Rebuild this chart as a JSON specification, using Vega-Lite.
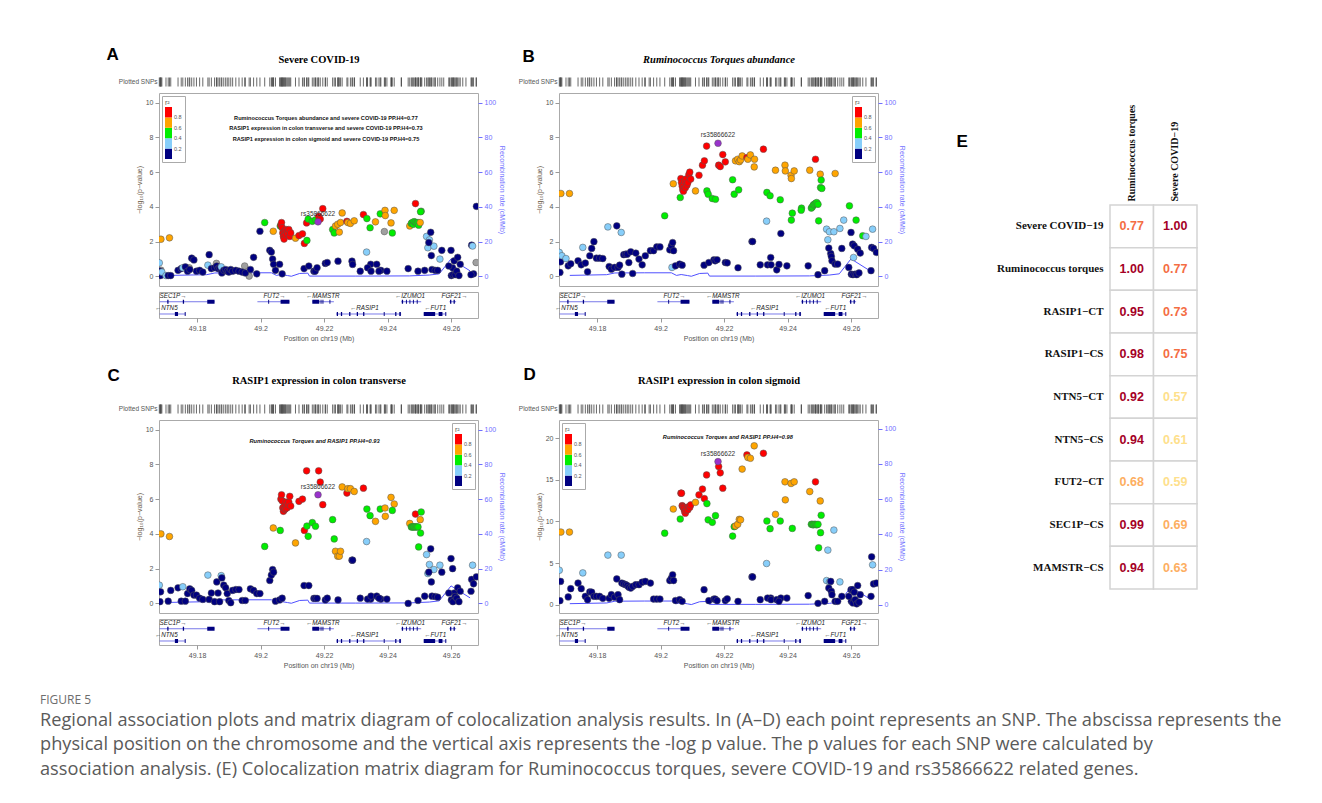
{
"$schema": "https://vega.github.io/schema/vega-lite/v6.json",
"padding": {"left": 40, "top": 45, "right": 5, "bottom": 5},
"background": "white",
"config": {"view": {"stroke": "#aaaaaa", "strokeWidth": 1}, "font": "Liberation Sans", "axis": {"titleFontWeight": "normal", "labelFont": "Liberation Sans", "titleFont": "Liberation Sans", "labelOverlap": false},
 "legend": {"type": "gradient", "direction": "vertical", "gradientLength": 52, "gradientThickness": 7, "labelFontSize": 5.5, "titleFontSize": 7, "padding": 3, "fillColor": "#ffffff", "strokeColor": "#aaaaaa", "labelColor": "#555555", "titleColor": "#555555", "titleFontWeight": "normal", "titlePadding": 1, "offset": 3, "labelOffset": 2}},
"title": {"text": "FIGURE 5", "subtitle": ["Regional association plots and matrix diagram of colocalization analysis results. In (A–D) each point represents an SNP. The abscissa represents the", "physical position on the chromosome and the vertical axis represents the -log p value. The p values for each SNP were calculated by", "association analysis. (E) Colocalization matrix diagram for Ruminococcus torques, severe COVID-19 and rs35866622 related genes."], "orient": "bottom", "anchor": "start", "dx": -66, "offset": 26, "font": "Open Sans", "fontSize": 12, "fontWeight": "normal", "color": "#6d6d6d", "subtitleFont": "Open Sans", "subtitleFontSize": 18.2, "subtitleColor": "#5a5a5a", "subtitlePadding": 5, "subtitleLineHeight": 24.5},
"datasets": {
"snps": [
{"pos":49.1681,"r2":0.3,"a":0.78,"b":1.38,"c":1.05,"d":4.14},
{"pos":49.1683,"r2":0.1,"a":0.30,"b":0.23,"c":0.10,"d":0.48},
{"pos":49.1685,"r2":0.1,"a":0.05,"b":0.84,"c":0.67,"d":2.80},
{"pos":49.1686,"r2":0.7,"a":2.14,"b":4.77,"c":4.00,"d":8.73},
{"pos":49.1689,"r2":0.3,"a":0.25,"b":1.19,"c":null,"d":null},
{"pos":49.1686,"r2":null,"a":0.36,"b":null,"c":null,"d":null},
{"pos":49.1702,"r2":0.3,"a":0.05,"b":1.03,"c":null,"d":null},
{"pos":49.1709,"r2":0.1,"a":0.05,"b":0.61,"c":0.13,"d":0.93},
{"pos":49.1713,"r2":0.7,"a":2.22,"b":4.77,"c":3.85,"d":8.73},
{"pos":49.1717,"r2":0.1,"a":0.05,"b":0.73,"c":0.75,"d":1.93},
{"pos":49.1740,"r2":0.1,"a":0.35,"b":0.90,"c":0.90,"d":2.60},
{"pos":49.1750,"r2":0.1,"a":0.45,"b":0.67,"c":0.13,"d":1.93},
{"pos":49.1755,"r2":0.3,"a":0.50,"b":1.67,"c":0.96,"d":3.82},
{"pos":49.1763,"r2":0.1,"a":0.55,"b":0.77,"c":0.13,"d":1.00},
{"pos":49.1770,"r2":0.1,"a":0.30,"b":0.27,"c":0.57,"d":0.60},
{"pos":49.1775,"r2":null,"a":0.50,"b":null,"c":null,"d":null},
{"pos":49.1777,"r2":0.1,"a":0.40,"b":1.19,"c":0.84,"d":1.53},
{"pos":49.1783,"r2":0.1,"a":1.05,"b":1.61,"c":0.75,"d":1.50},
{"pos":49.1790,"r2":0.1,"a":0.95,"b":2.00,"c":0.48,"d":1.00},
{"pos":49.1798,"r2":0.1,"a":0.30,"b":1.05,"c":0.48,"d":1.00},
{"pos":49.1808,"r2":0.1,"a":0.35,"b":1.05,"c":0.30,"d":1.00},
{"pos":49.1818,"r2":0.1,"a":0.25,"b":1.03,"c":0.23,"d":0.76},
{"pos":49.1834,"r2":0.3,"a":0.65,"b":2.85,"c":1.63,"d":5.96},
{"pos":49.1838,"r2":0.1,"a":1.25,"b":0.57,"c":0.23,"d":0.76},
{"pos":49.1845,"r2":0.1,"a":0.45,"b":0.42,"c":0.60,"d":1.20},
{"pos":49.1855,"r2":0.1,"a":0.50,"b":0.52,"c":0.10,"d":0.90},
{"pos":49.1861,"r2":null,"a":0.75,"b":null,"c":null,"d":null},
{"pos":49.1862,"r2":0.1,"a":0.60,"b":2.91,"c":1.24,"d":3.10},
{"pos":49.1866,"r2":0.1,"a":0.45,"b":0.52,"c":0.60,"d":1.20},
{"pos":49.1871,"r2":0.1,"a":0.50,"b":0.65,"c":0.10,"d":0.60},
{"pos":49.1876,"r2":0.3,"a":0.55,"b":2.53,"c":1.60,"d":5.96},
{"pos":49.1878,"r2":0.1,"a":0.20,"b":0.13,"c":1.47,"d":2.60},
{"pos":49.1884,"r2":0.1,"a":0.35,"b":1.25,"c":1.05,"d":2.50},
{"pos":49.1890,"r2":0.1,"a":0.40,"b":1.28,"c":0.90,"d":2.40},
{"pos":49.1895,"r2":0.1,"a":0.30,"b":1.28,"c":0.57,"d":2.30},
{"pos":49.1900,"r2":0.1,"a":0.25,"b":0.80,"c":0.17,"d":2.10},
{"pos":49.1906,"r2":0.1,"a":0.40,"b":1.42,"c":0.04,"d":2.00},
{"pos":49.1912,"r2":0.1,"a":0.30,"b":0.17,"c":0.75,"d":2.20},
{"pos":49.1922,"r2":0.1,"a":0.35,"b":1.34,"c":0.80,"d":2.40},
{"pos":49.1932,"r2":0.1,"a":0.30,"b":1.00,"c":0.80,"d":2.40},
{"pos":49.1942,"r2":0.1,"a":0.25,"b":0.67,"c":0.17,"d":2.70},
{"pos":49.1950,"r2":null,"a":0.60,"b":null,"c":null,"d":null},
{"pos":49.1952,"r2":0.1,"a":0.20,"b":1.19,"c":0.17,"d":2.80},
{"pos":49.1964,"r2":null,"a":0.02,"b":null,"c":null,"d":null},
{"pos":49.1968,"r2":0.1,"a":0.40,"b":1.48,"c":0.84,"d":2.60},
{"pos":49.1978,"r2":0.1,"a":1.10,"b":1.48,"c":0.75,"d":0.68},
{"pos":49.1988,"r2":0.1,"a":0.15,"b":1.70,"c":0.57,"d":0.68},
{"pos":49.1998,"r2":0.1,"a":2.60,"b":1.70,"c":0.57,"d":0.68},
{"pos":49.2013,"r2":0.5,"a":3.10,"b":3.49,"c":3.28,"d":8.60},
{"pos":49.2029,"r2":0.1,"a":1.50,"b":1.53,"c":1.32,"d":2.90},
{"pos":49.2034,"r2":0.1,"a":1.40,"b":1.76,"c":1.63,"d":3.20},
{"pos":49.2038,"r2":0.1,"a":1.00,"b":1.95,"c":1.95,"d":3.60},
{"pos":49.2041,"r2":0.1,"a":0.70,"b":1.48,"c":1.80,"d":2.90},
{"pos":49.2036,"r2":0.3,"a":null,"b":0.52,"c":null,"d":null},
{"pos":49.2040,"r2":0.7,"a":2.60,"b":5.33,"c":4.34,"d":11.5},
{"pos":49.2047,"r2":0.1,"a":0.35,"b":0.61,"c":0.13,"d":0.50},
{"pos":49.2062,"r2":0.5,"a":2.90,"b":4.54,"c":4.20,"d":10.3},
{"pos":49.2060,"r2":0.1,"a":0.70,"b":0.71,"c":0.20,"d":0.60},
{"pos":49.2068,"r2":0.1,"a":0.15,"b":0.65,"c":0.30,"d":0.40},
{"pos":49.2064,"r2":0.9,"a":2.95,"b":5.63,"c":6.00,"d":13.4},
{"pos":49.2066,"r2":0.9,"a":3.10,"b":5.40,"c":6.25,"d":13.4},
{"pos":49.2068,"r2":0.9,"a":2.80,"b":5.20,"c":5.90,"d":11.9},
{"pos":49.2070,"r2":0.9,"a":2.50,"b":5.00,"c":5.50,"d":11.8},
{"pos":49.2072,"r2":0.9,"a":2.30,"b":4.90,"c":5.30,"d":11.7},
{"pos":49.2074,"r2":0.9,"a":2.15,"b":5.30,"c":5.56,"d":11.5},
{"pos":49.2076,"r2":0.9,"a":2.60,"b":5.50,"c":5.40,"d":11.2},
{"pos":49.2078,"r2":0.9,"a":2.40,"b":5.10,"c":5.45,"d":11.0},
{"pos":49.2080,"r2":0.9,"a":2.70,"b":5.60,"c":5.83,"d":11.3},
{"pos":49.2083,"r2":0.9,"a":2.55,"b":5.25,"c":5.49,"d":11.6},
{"pos":49.2086,"r2":0.9,"a":2.45,"b":5.40,"c":5.70,"d":11.4},
{"pos":49.2089,"r2":0.9,"a":2.70,"b":5.85,"c":5.83,"d":11.8},
{"pos":49.2092,"r2":0.9,"a":2.30,"b":6.00,"c":6.16,"d":11.7},
{"pos":49.2095,"r2":0.9,"a":2.50,"b":5.60,"c":5.60,"d":12.0},
{"pos":49.2110,"r2":0.7,"a":2.20,"b":4.92,"c":3.48,"d":12.3},
{"pos":49.2121,"r2":0.9,"a":2.35,"b":5.82,"c":5.87,"d":13.2},
{"pos":49.2132,"r2":0.9,"a":2.45,"b":6.40,"c":6.00,"d":13.9},
{"pos":49.2138,"r2":0.9,"a":1.90,"b":6.65,"c":4.20,"d":12.75},
{"pos":49.2145,"r2":0.9,"a":3.08,"b":7.50,"c":7.63,"d":15.6},
{"pos":49.2146,"r2":0.5,"a":2.07,"b":4.92,"c":4.45,"d":12.15},
{"pos":49.2150,"r2":0.5,"a":3.30,"b":4.73,"c":3.86,"d":10.2},
{"pos":49.2137,"r2":0.1,"a":0.45,"b":0.65,"c":1.03,"d":1.80},
{"pos":49.2152,"r2":0.1,"a":0.60,"b":0.80,"c":1.03,"d":0.48},
{"pos":49.2163,"r2":0.5,"a":3.17,"b":4.48,"c":4.65,"d":9.90},
{"pos":49.2173,"r2":0.5,"a":3.25,"b":4.44,"c":4.44,"d":10.7},
{"pos":49.2168,"r2":0.1,"a":0.30,"b":0.96,"c":0.29,"d":0.68},
{"pos":49.2172,"r2":0.1,"a":0.30,"b":0.90,"c":0.29,"d":0.68},
{"pos":49.2181,"r2":1.0,"a":3.14,"b":7.66,"c":6.25,"d":17.2},
{"pos":49.2183,"r2":0.9,"a":3.46,"b":6.40,"c":7.63,"d":16.6},
{"pos":49.2188,"r2":0.9,"a":3.30,"b":6.32,"c":6.98,"d":15.85},
{"pos":49.2196,"r2":0.9,"a":3.90,"b":7.01,"c":5.68,"d":14.0},
{"pos":49.2204,"r2":0.9,"a":null,"b":6.59,"c":null,"d":null},
{"pos":49.2178,"r2":0.1,"a":0.50,"b":0.96,"c":0.29,"d":0.48},
{"pos":49.2204,"r2":0.1,"a":0.75,"b":0.80,"c":0.20,"d":0.50},
{"pos":49.2210,"r2":0.1,"a":0.80,"b":0.78,"c":0.30,"d":0.70},
{"pos":49.2227,"r2":0.5,"a":2.70,"b":5.56,"c":4.82,"d":8.25},
{"pos":49.2232,"r2":0.5,"a":2.50,"b":4.73,"c":3.71,"d":9.38},
{"pos":49.2246,"r2":0.5,"a":null,"b":4.98,"c":null,"d":null},
{"pos":49.2236,"r2":0.7,"a":2.90,"b":6.65,"c":3.00,"d":9.46},
{"pos":49.2243,"r2":0.7,"a":3.00,"b":6.74,"c":2.72,"d":9.66},
{"pos":49.2248,"r2":0.7,"a":2.55,"b":6.60,"c":2.72,"d":10.26},
{"pos":49.2252,"r2":0.7,"a":3.10,"b":6.70,"c":3.00,"d":10.2},
{"pos":49.2257,"r2":0.7,"a":3.65,"b":6.93,"c":6.70,"d":16.3},
{"pos":49.2272,"r2":0.9,"a":3.17,"b":6.84,"c":6.35,"d":18.0},
{"pos":49.2275,"r2":0.7,"a":3.10,"b":6.74,"c":6.60,"d":17.7},
{"pos":49.2283,"r2":0.7,"a":3.05,"b":6.99,"c":6.60,"d":17.6},
{"pos":49.2295,"r2":0.7,"a":3.20,"b":6.30,"c":6.44,"d":19.1},
{"pos":49.2296,"r2":0.7,"a":null,"b":6.74,"c":null,"d":null},
{"pos":49.2244,"r2":0.1,"a":0.88,"b":0.50,"c":0.20,"d":0.40},
{"pos":49.2288,"r2":0.1,"a":0.88,"b":2.01,"c":2.49,"d":3.34},
{"pos":49.2290,"r2":0.1,"a":0.69,"b":2.01,"c":2.49,"d":3.34},
{"pos":49.2314,"r2":0.1,"a":0.30,"b":0.67,"c":0.30,"d":0.60},
{"pos":49.2324,"r2":0.9,"a":3.56,"b":7.32,"c":6.63,"d":18.2},
{"pos":49.2334,"r2":0.3,"a":1.40,"b":3.18,"c":3.56,"d":4.95},
{"pos":49.2335,"r2":0.5,"a":3.33,"b":4.83,"c":5.43,"d":10.06},
{"pos":49.2345,"r2":0.5,"a":2.80,"b":4.64,"c":5.05,"d":9.13},
{"pos":49.2347,"r2":0.1,"a":0.70,"b":1.09,"c":0.25,"d":0.80},
{"pos":49.2337,"r2":0.1,"a":0.50,"b":0.67,"c":0.25,"d":0.80},
{"pos":49.2348,"r2":0.1,"a":0.30,"b":0.67,"c":0.42,"d":0.60},
{"pos":49.2362,"r2":0.7,"a":3.14,"b":6.11,"c":4.72,"d":10.86},
{"pos":49.2366,"r2":0.1,"a":0.70,"b":0.38,"c":0.42,"d":0.60},
{"pos":49.2377,"r2":0.5,"a":3.60,"b":4.41,"c":5.43,"d":10.06},
{"pos":49.2379,"r2":0.1,"a":0.35,"b":2.47,"c":0.25,"d":0.80},
{"pos":49.2373,"r2":0.1,"a":0.30,"b":0.69,"c":0.30,"d":0.40},
{"pos":49.2392,"r2":0.7,"a":3.80,"b":6.40,"c":5.49,"d":14.77},
{"pos":49.2393,"r2":0.7,"a":3.50,"b":6.07,"c":5.01,"d":12.6},
{"pos":49.2390,"r2":null,"a":2.58,"b":null,"c":null,"d":null},
{"pos":49.2411,"r2":0.7,"a":3.08,"b":5.82,"c":6.10,"d":14.57},
{"pos":49.2421,"r2":0.7,"a":3.80,"b":6.07,"c":5.72,"d":14.77},
{"pos":49.2412,"r2":0.7,"a":null,"b":5.63,"c":null,"d":null},
{"pos":49.2415,"r2":0.5,"a":2.50,"b":3.64,"c":5.35,"d":9.17},
{"pos":49.2412,"r2":0.5,"a":null,"b":3.24,"c":null,"d":null},
{"pos":49.2398,"r2":0.1,"a":0.30,"b":0.61,"c":0.25,"d":0.80},
{"pos":49.2444,"r2":0.5,"a":null,"b":3.93,"c":null,"d":null},
{"pos":49.2443,"r2":0.5,"a":null,"b":3.81,"c":null,"d":null},
{"pos":49.2465,"r2":0.1,"a":0.45,"b":0.61,"c":0.00,"d":1.09},
{"pos":49.2470,"r2":0.7,"a":2.90,"b":6.11,"c":4.60,"d":13.6},
{"pos":49.2475,"r2":0.5,"a":3.05,"b":3.93,"c":4.40,"d":9.66},
{"pos":49.2478,"r2":0.5,"a":3.10,"b":4.00,"c":4.40,"d":9.66},
{"pos":49.2481,"r2":0.5,"a":3.00,"b":4.10,"c":4.40,"d":9.60},
{"pos":49.2484,"r2":0.5,"a":3.15,"b":4.15,"c":4.40,"d":9.66},
{"pos":49.2488,"r2":0.5,"a":3.10,"b":4.20,"c":4.40,"d":9.66},
{"pos":49.2492,"r2":0.5,"a":3.05,"b":4.25,"c":4.40,"d":9.60},
{"pos":49.2496,"r2":0.5,"a":3.10,"b":4.15,"c":4.40,"d":9.66},
{"pos":49.2488,"r2":0.9,"a":4.19,"b":6.74,"c":5.14,"d":14.77},
{"pos":49.2498,"r2":0.5,"a":2.95,"b":3.20,"c":3.25,"d":6.84},
{"pos":49.2503,"r2":0.7,"a":3.10,"b":5.88,"c":4.82,"d":12.47},
{"pos":49.2506,"r2":0.5,"a":3.75,"b":5.54,"c":5.26,"d":10.75},
{"pos":49.2504,"r2":0.5,"a":3.72,"b":5.11,"c":4.05,"d":8.65},
{"pos":49.2508,"r2":0.5,"a":null,"b":5.06,"c":null,"d":null},
{"pos":49.2496,"r2":0.1,"a":0.30,"b":0.10,"c":0.17,"d":0.16},
{"pos":49.2517,"r2":0.1,"a":0.35,"b":0.33,"c":0.42,"d":0.40},
{"pos":49.2523,"r2":0.3,"a":2.30,"b":2.72,"c":2.81,"d":2.90},
{"pos":49.2527,"r2":0.3,"a":1.65,"b":2.11,"c":1.72,"d":6.56},
{"pos":49.2532,"r2":0.3,"a":2.10,"b":2.57,"c":2.24,"d":2.74},
{"pos":49.2546,"r2":0.3,"a":1.74,"b":2.57,"c":1.95,"d":8.97},
{"pos":49.2550,"r2":0.7,"a":null,"b":5.92,"c":null,"d":null},
{"pos":49.2565,"r2":0.3,"a":1.00,"b":2.76,"c":2.20,"d":2.74},
{"pos":49.2536,"r2":0.1,"a":2.54,"b":1.32,"c":3.14,"d":2.80},
{"pos":49.2530,"r2":0.1,"a":1.95,"b":1.63,"c":1.80,"d":2.00},
{"pos":49.2538,"r2":0.1,"a":1.20,"b":1.15,"c":1.24,"d":1.60},
{"pos":49.2540,"r2":0.1,"a":0.40,"b":0.90,"c":0.42,"d":1.20},
{"pos":49.2550,"r2":0.1,"a":0.35,"b":0.71,"c":0.40,"d":0.40},
{"pos":49.2571,"r2":0.1,"a":1.50,"b":1.61,"c":1.80,"d":1.00},
{"pos":49.2577,"r2":0.3,"a":null,"b":3.24,"c":null,"d":null},
{"pos":49.2558,"r2":0.1,"a":0.35,"b":0.71,"c":0.36,"d":0.40},
{"pos":49.2595,"r2":0.5,"a":null,"b":4.06,"c":null,"d":null},
{"pos":49.2600,"r2":0.1,"a":1.50,"b":2.53,"c":2.58,"d":1.80},
{"pos":49.2608,"r2":0.3,"a":null,"b":1.09,"c":null,"d":null},
{"pos":49.2605,"r2":0.1,"a":0.50,"b":1.86,"c":2.00,"d":1.80},
{"pos":49.2610,"r2":0.1,"a":0.90,"b":1.76,"c":0.60,"d":1.50},
{"pos":49.2616,"r2":0.5,"a":null,"b":3.24,"c":null,"d":null},
{"pos":49.2621,"r2":0.1,"a":1.10,"b":1.57,"c":0.90,"d":2.30},
{"pos":49.2629,"r2":0.1,"a":0.70,"b":1.34,"c":0.70,"d":1.20},
{"pos":49.2601,"r2":0.1,"a":0.05,"b":0.13,"c":0.20,"d":0.40},
{"pos":49.2606,"r2":0.1,"a":0.10,"b":0.10,"c":0.10,"d":0.20},
{"pos":49.2613,"r2":0.1,"a":0.10,"b":0.13,"c":0.40,"d":0.60},
{"pos":49.2618,"r2":0.1,"a":0.30,"b":0.10,"c":0.30,"d":0.10},
{"pos":49.2625,"r2":0.1,"a":0.05,"b":0.20,"c":0.10,"d":0.30},
{"pos":49.2593,"r2":0.1,"a":0.60,"b":0.52,"c":0.60,"d":1.00},
{"pos":49.2637,"r2":0.5,"a":null,"b":2.34,"c":null,"d":null},
{"pos":49.2647,"r2":0.3,"a":null,"b":2.30,"c":null,"d":null},
{"pos":49.2665,"r2":0.1,"a":1.80,"b":1.67,"c":1.38,"d":5.75},
{"pos":49.2668,"r2":0.3,"a":1.75,"b":2.72,"c":2.20,"d":4.79},
{"pos":49.2671,"r2":0.1,"a":0.15,"b":1.61,"c":1.13,"d":2.50},
{"pos":49.2663,"r2":0.1,"a":0.10,"b":0.33,"c":0.70,"d":1.00},
{"pos":49.2680,"r2":0.1,"a":4.03,"b":1.38,"c":1.53,"d":2.60},
{"pos":49.2679,"r2":null,"a":0.80,"b":null,"c":null,"d":null}
],
"recomb": [{"pos":49.1714,"rate":0.6},{"pos":49.183,"rate":1.0},{"pos":49.1856,"rate":2.0},{"pos":49.195,"rate":2.1},{"pos":49.2034,"rate":2.1},{"pos":49.205,"rate":0.6},{"pos":49.2065,"rate":1.1},{"pos":49.2085,"rate":0.5},{"pos":49.2097,"rate":0.1},{"pos":49.2123,"rate":1.7},{"pos":49.2149,"rate":1.9},{"pos":49.2154,"rate":0.2},{"pos":49.23,"rate":0.2},{"pos":49.2469,"rate":0.3},{"pos":49.2532,"rate":0.8},{"pos":49.2563,"rate":1.5},{"pos":49.26,"rate":10.1},{"pos":49.266,"rate":3.2}],
"genes": [{"label":"SEC1P→","start":49.1682,"end":49.1855,"track":2,"lab":49.1724},{"label":"←NTN5","start":49.1682,"end":49.1764,"track":1,"lab":49.1703},{"label":"FUT2→","start":49.199,"end":49.2091,"track":2,"lab":49.2044},{"label":"←MAMSTR","start":49.2163,"end":49.2231,"track":2,"lab":49.2196},{"label":"←RASIP1","start":49.2238,"end":49.2443,"track":1,"lab":49.2327},{"label":"←IZUMO1","start":49.2443,"end":49.2506,"track":2,"lab":49.2471},{"label":"←FUT1","start":49.2514,"end":49.2585,"track":1,"lab":49.255},{"label":"FGF21→","start":49.2595,"end":49.2616,"track":2,"lab":49.2611}],
"exons": [{"start":49.1706,"end":49.1710,"track":2},{"start":49.1755,"end":49.1759,"track":2},{"start":49.1832,"end":49.1855,"track":2},{"start":49.173,"end":49.174,"track":1},{"start":49.1761,"end":49.1764,"track":1},{"start":49.2063,"end":49.2091,"track":2},{"start":49.2024,"end":49.2027,"track":2},{"start":49.2163,"end":49.2185,"track":2},{"start":49.2189,"end":49.2192,"track":2},{"start":49.2195,"end":49.2198,"track":2},{"start":49.2217,"end":49.2220,"track":2},{"start":49.2240,"end":49.2244,"track":1},{"start":49.2253,"end":49.2257,"track":1},{"start":49.2279,"end":49.2283,"track":1},{"start":49.2303,"end":49.2307,"track":1},{"start":49.2323,"end":49.2327,"track":1},{"start":49.2388,"end":49.2391,"track":1},{"start":49.2424,"end":49.2428,"track":1},{"start":49.2437,"end":49.2442,"track":1},{"start":49.2445,"end":49.2449,"track":2},{"start":49.2458,"end":49.2461,"track":2},{"start":49.2469,"end":49.2472,"track":2},{"start":49.2480,"end":49.2483,"track":2},{"start":49.2492,"end":49.2495,"track":2},{"start":49.2514,"end":49.2550,"track":1},{"start":49.2561,"end":49.2573,"track":1},{"start":49.2582,"end":49.2585,"track":1},{"start":49.2597,"end":49.2601,"track":2},{"start":49.2608,"end":49.2612,"track":2}],
"matrix": [{"row":"Severe COVID−19","col":"Ruminococcus torques","v":0.77},{"row":"Severe COVID−19","col":"Severe COVID−19","v":1.00},{"row":"Ruminococcus torques","col":"Ruminococcus torques","v":1.00},{"row":"Ruminococcus torques","col":"Severe COVID−19","v":0.77},{"row":"RASIP1−CT","col":"Ruminococcus torques","v":0.95},{"row":"RASIP1−CT","col":"Severe COVID−19","v":0.73},{"row":"RASIP1−CS","col":"Ruminococcus torques","v":0.98},{"row":"RASIP1−CS","col":"Severe COVID−19","v":0.75},{"row":"NTN5−CT","col":"Ruminococcus torques","v":0.92},{"row":"NTN5−CT","col":"Severe COVID−19","v":0.57},{"row":"NTN5−CS","col":"Ruminococcus torques","v":0.94},{"row":"NTN5−CS","col":"Severe COVID−19","v":0.61},{"row":"FUT2−CT","col":"Ruminococcus torques","v":0.68},{"row":"FUT2−CT","col":"Severe COVID−19","v":0.59},{"row":"SEC1P−CS","col":"Ruminococcus torques","v":0.99},{"row":"SEC1P−CS","col":"Severe COVID−19","v":0.69},{"row":"MAMSTR−CS","col":"Ruminococcus torques","v":0.94},{"row":"MAMSTR−CS","col":"Severe COVID−19","v":0.63}]
},
"spacing": 49,
"hconcat": [
{"bounds": "flush", "align": "each", "columns": 2, "spacing": {"row": 6, "column": 81}, "concat": [
 {"width": 319, "height": 10, "view": {"stroke": null}, "data": {"name": "snps"},
  "mark": {"type": "tick", "thickness": 1, "color": "#444444", "opacity": 0.8, "size": 9},
  "encoding": {
   "x": {"field": "pos", "type": "quantitative", "scale": {"domain": [49.168, 49.2685], "nice": false, "zero": false}, "axis": {"orient": "top", "labels": false, "ticks": false, "domain": false, "grid": false, "title": "Severe COVID-19", "titleFont": "Liberation Serif", "titleFontSize": 10.5, "titleFontWeight": "bold", "titleColor": "#000000", "titleY": -18, "titleBaseline": "middle"}},
   "y": {"datum": "Plotted SNPs", "type": "nominal", "axis": {"domain": false, "ticks": false, "labelFontSize": 6.5, "labelColor": "#555555", "labelPadding": 2, "title": "A", "titleAngle": 0, "titleX": -53, "titleY": -23, "titleAlign": "left", "titleBaseline": "middle", "titleFontSize": 17, "titleFontWeight": "bold", "titleColor": "#000000"}}}},
 {"width": 319, "height": 10, "view": {"stroke": null}, "data": {"name": "snps"},
  "mark": {"type": "tick", "thickness": 1, "color": "#444444", "opacity": 0.8, "size": 9},
  "encoding": {
   "x": {"field": "pos", "type": "quantitative", "scale": {"domain": [49.168, 49.2685], "nice": false, "zero": false}, "axis": {"orient": "top", "labels": false, "ticks": false, "domain": false, "grid": false, "title": "Ruminococcus Torques abundance", "titleFont": "Liberation Serif", "titleFontSize": 10.5, "titleFontWeight": "bold", "titleFontStyle": "italic", "titleColor": "#000000", "titleY": -18, "titleBaseline": "middle"}},
   "y": {"datum": "Plotted SNPs", "type": "nominal", "axis": {"domain": false, "ticks": false, "labelFontSize": 6.5, "labelColor": "#555555", "labelPadding": 2, "title": "B", "titleAngle": 0, "titleX": -37, "titleY": -21, "titleAlign": "left", "titleBaseline": "middle", "titleFontSize": 17, "titleFontWeight": "bold", "titleColor": "#000000"}}}},
 {"width": 319, "height": 193,
  "layer": [
   {"data": {"name": "recomb"}, "mark": {"type": "line", "color": "#5050ff", "strokeWidth": 1, "clip": true},
    "encoding": {"x": {"field": "pos", "type": "quantitative", "scale": {"domain": [49.168, 49.2685], "nice": false, "zero": false}, "axis": null},
     "y": {"field": "rate", "type": "quantitative", "scale": {"domain": [-5.5, 105.5], "nice": false, "zero": false}, "axis": {"orient": "right", "values": [0,20,40,60,80,100], "tickCount": 12, "title": "Recombination rate (cM/Mb)", "grid": false, "domain": false, "tickColor": "#6f6fff", "tickSize": 4, "labelColor": "#6f6fff", "labelFontSize": 7, "labelPadding": 2, "labelOverlap": false, "titleColor": "#6f6fff", "titleFontSize": 7, "titlePadding": 3}}}},
   {"layer": [
     {"data": {"name": "snps"}, "transform": [{"filter": "!isValid(datum.r2)"}], "mark": {"type": "circle", "size": 45, "color": "#a0a0a0", "stroke": "#555555", "strokeWidth": 0.5, "opacity": 1, "clip": true},
      "encoding": {"x": {"field": "pos", "type": "quantitative", "scale": {"domain": [49.168, 49.2685], "nice": false, "zero": false}, "axis": null},
       "y": {"field": "a", "type": "quantitative", "scale": {"domain": [-0.55, 10.55], "nice": false, "zero": false}, "axis": {"values": [0,2,4,6,8,10], "tickCount": 12, "labelOverlap": false, "title": "−log₁₀(p−value)", "grid": false, "domain": false, "tickColor": "#999999", "tickSize": 4, "labelColor": "#555555", "labelFontSize": 7, "labelPadding": 2, "titleColor": "#6a5a4a", "titleFontSize": 7, "titlePadding": 3}}}},
     {"data": {"name": "snps"}, "transform": [{"filter": "isValid(datum.r2) && datum.r2 < 1"}], "mark": {"type": "circle", "size": 45, "stroke": "#555555", "strokeWidth": 0.5, "opacity": 1, "clip": true},
      "encoding": {"x": {"field": "pos", "type": "quantitative"}, "y": {"field": "a", "type": "quantitative"},
       "color": {"field": "r2", "type": "quantitative", "scale": {"type": "threshold", "domain": [0.2, 0.4, 0.6, 0.8], "range": ["#000080", "#87cefa", "#00ee00", "#ffa500", "#ff0000"]}, "legend": {"type": "gradient", "title": "r²", "orient": "top-left"}}}},
     {"data": {"name": "snps"}, "transform": [{"filter": "datum.r2 == 1"}], "mark": {"type": "circle", "size": 45, "color": "#9932cc", "stroke": "#555555", "strokeWidth": 0.5, "opacity": 1},
      "encoding": {"x": {"field": "pos", "type": "quantitative"}, "y": {"field": "a", "type": "quantitative"}}},
     {"data": {"name": "snps"}, "transform": [{"filter": "datum.r2 == 1"}], "mark": {"type": "text", "text": "rs35866622", "dy": -8, "fontSize": 6.5, "color": "#333333"},
      "encoding": {"x": {"field": "pos", "type": "quantitative"}, "y": {"field": "a", "type": "quantitative"}}},
     {"data": {"values": [{}]}, "mark": {"type": "text", "text": ["Ruminococcus Torques abundance and severe COVID-19 PP.H4=0.77", "RASIP1 expression in colon transverse and severe COVID-19 PP.H4=0.73", "RASIP1 expression in colon sigmoid and severe COVID-19 PP.H4=0.75"], "lineHeight": 10.6, "fontSize": 5.6, "fontWeight": "bold", "color": "#111111", "baseline": "middle"},
      "encoding": {"x": {"datum": 49.2206, "type": "quantitative"}, "y": {"datum": 9.14, "type": "quantitative"}}}
   ]}
  ],
  "resolve": {"scale": {"y": "independent"}}},
 {"width": 319, "height": 193,
  "layer": [
   {"data": {"name": "recomb"}, "mark": {"type": "line", "color": "#5050ff", "strokeWidth": 1, "clip": true},
    "encoding": {"x": {"field": "pos", "type": "quantitative", "scale": {"domain": [49.168, 49.2685], "nice": false, "zero": false}, "axis": null},
     "y": {"field": "rate", "type": "quantitative", "scale": {"domain": [-5.5, 105.5], "nice": false, "zero": false}, "axis": {"orient": "right", "values": [0,20,40,60,80,100], "tickCount": 12, "title": "Recombination rate (cM/Mb)", "grid": false, "domain": false, "tickColor": "#6f6fff", "tickSize": 4, "labelColor": "#6f6fff", "labelFontSize": 7, "labelPadding": 2, "labelOverlap": false, "titleColor": "#6f6fff", "titleFontSize": 7, "titlePadding": 3}}}},
   {"layer": [
     {"data": {"name": "snps"}, "transform": [{"filter": "isValid(datum.r2) && datum.r2 < 1"}], "mark": {"type": "circle", "size": 45, "stroke": "#555555", "strokeWidth": 0.5, "opacity": 1, "clip": true},
      "encoding": {"x": {"field": "pos", "type": "quantitative", "scale": {"domain": [49.168, 49.2685], "nice": false, "zero": false}, "axis": null},
       "y": {"field": "b", "type": "quantitative", "scale": {"domain": [-0.55, 10.55], "nice": false, "zero": false}, "axis": {"values": [0,2,4,6,8,10], "tickCount": 12, "labelOverlap": false, "title": "−log₁₀(p−value)", "grid": false, "domain": false, "tickColor": "#999999", "tickSize": 4, "labelColor": "#555555", "labelFontSize": 7, "labelPadding": 2, "titleColor": "#6a5a4a", "titleFontSize": 7, "titlePadding": 3}},
       "color": {"field": "r2", "type": "quantitative", "scale": {"type": "threshold", "domain": [0.2, 0.4, 0.6, 0.8], "range": ["#000080", "#87cefa", "#00ee00", "#ffa500", "#ff0000"]}, "legend": {"type": "gradient", "title": "r²", "orient": "top-right"}}}},
     {"data": {"name": "snps"}, "transform": [{"filter": "datum.r2 == 1"}], "mark": {"type": "circle", "size": 45, "color": "#9932cc", "stroke": "#555555", "strokeWidth": 0.5, "opacity": 1},
      "encoding": {"x": {"field": "pos", "type": "quantitative"}, "y": {"field": "b", "type": "quantitative"}}},
     {"data": {"name": "snps"}, "transform": [{"filter": "datum.r2 == 1"}], "mark": {"type": "text", "text": "rs35866622", "dy": -8, "fontSize": 6.5, "color": "#333333"},
      "encoding": {"x": {"field": "pos", "type": "quantitative"}, "y": {"field": "b", "type": "quantitative"}}}
   ]}
  ],
  "resolve": {"scale": {"y": "independent"}}},
 {"width": 319, "height": 26,
  "layer": [
   {"data": {"name": "genes"}, "mark": {"type": "rule", "color": "#4040e0", "strokeWidth": 0.7, "clip": true},
    "encoding": {"x": {"field": "start", "type": "quantitative", "scale": {"domain": [49.168, 49.2685], "nice": false, "zero": false}, "axis": {"values": [49.18, 49.2, 49.22, 49.24, 49.26], "tickCount": 12, "format": ".4~r", "title": "Position on chr19 (Mb)", "grid": false, "domain": false, "tickColor": "#999999", "tickSize": 4, "labelColor": "#555555", "labelFontSize": 7, "labelPadding": 2, "titleColor": "#555555", "titleFontSize": 7, "titlePadding": 3}},
     "x2": {"field": "end"}, "y": {"field": "track", "type": "quantitative", "scale": {"domain": [0.673, 2.796], "nice": false, "zero": false}, "axis": null}}},
   {"data": {"name": "exons"}, "mark": {"type": "rule", "color": "#000080", "strokeWidth": 4, "strokeCap": "butt"},
    "encoding": {"x": {"field": "start", "type": "quantitative"}, "x2": {"field": "end"}, "y": {"field": "track", "type": "quantitative"}}},
   {"data": {"name": "genes"}, "mark": {"type": "text", "fontSize": 6.3, "fontStyle": "italic", "dy": -6, "color": "#222222"},
    "encoding": {"x": {"field": "lab", "type": "quantitative"}, "y": {"field": "track", "type": "quantitative"}, "text": {"field": "label"}}}
  ]},
 {"width": 319, "height": 26,
  "layer": [
   {"data": {"name": "genes"}, "mark": {"type": "rule", "color": "#4040e0", "strokeWidth": 0.7, "clip": true},
    "encoding": {"x": {"field": "start", "type": "quantitative", "scale": {"domain": [49.168, 49.2685], "nice": false, "zero": false}, "axis": {"values": [49.18, 49.2, 49.22, 49.24, 49.26], "tickCount": 12, "format": ".4~r", "title": "Position on chr19 (Mb)", "grid": false, "domain": false, "tickColor": "#999999", "tickSize": 4, "labelColor": "#555555", "labelFontSize": 7, "labelPadding": 2, "titleColor": "#555555", "titleFontSize": 7, "titlePadding": 3}},
     "x2": {"field": "end"}, "y": {"field": "track", "type": "quantitative", "scale": {"domain": [0.673, 2.796], "nice": false, "zero": false}, "axis": null}}},
   {"data": {"name": "exons"}, "mark": {"type": "rule", "color": "#000080", "strokeWidth": 4, "strokeCap": "butt"},
    "encoding": {"x": {"field": "start", "type": "quantitative"}, "x2": {"field": "end"}, "y": {"field": "track", "type": "quantitative"}}},
   {"data": {"name": "genes"}, "mark": {"type": "text", "fontSize": 6.3, "fontStyle": "italic", "dy": -6, "color": "#222222"},
    "encoding": {"x": {"field": "lab", "type": "quantitative"}, "y": {"field": "track", "type": "quantitative"}, "text": {"field": "label"}}}
  ]},
 {"width": 319, "height": 74, "view": {"stroke": null}, "data": {"values": [{}]}, "mark": {"type": "text", "text": ""}},
 {"width": 319, "height": 74, "view": {"stroke": null}, "data": {"values": [{}]}, "mark": {"type": "text", "text": ""}},
 {"width": 319, "height": 10, "view": {"stroke": null}, "data": {"name": "snps"},
  "mark": {"type": "tick", "thickness": 1, "color": "#444444", "opacity": 0.8, "size": 9},
  "encoding": {
   "x": {"field": "pos", "type": "quantitative", "scale": {"domain": [49.168, 49.2685], "nice": false, "zero": false}, "axis": {"orient": "top", "labels": false, "ticks": false, "domain": false, "grid": false, "title": "RASIP1 expression in colon transverse", "titleFont": "Liberation Serif", "titleFontSize": 10.5, "titleFontWeight": "bold", "titleColor": "#000000", "titleY": -24, "titleBaseline": "middle"}},
   "y": {"datum": "Plotted SNPs", "type": "nominal", "axis": {"domain": false, "ticks": false, "labelFontSize": 6.5, "labelColor": "#555555", "labelPadding": 2, "title": "C", "titleAngle": 0, "titleX": -52, "titleY": -29, "titleAlign": "left", "titleBaseline": "middle", "titleFontSize": 17, "titleFontWeight": "bold", "titleColor": "#000000"}}}},
 {"width": 319, "height": 10, "view": {"stroke": null}, "data": {"name": "snps"},
  "mark": {"type": "tick", "thickness": 1, "color": "#444444", "opacity": 0.8, "size": 9},
  "encoding": {
   "x": {"field": "pos", "type": "quantitative", "scale": {"domain": [49.168, 49.2685], "nice": false, "zero": false}, "axis": {"orient": "top", "labels": false, "ticks": false, "domain": false, "grid": false, "title": "RASIP1 expression in colon sigmoid", "titleFont": "Liberation Serif", "titleFontSize": 10.5, "titleFontWeight": "bold", "titleColor": "#000000", "titleY": -24, "titleBaseline": "middle"}},
   "y": {"datum": "Plotted SNPs", "type": "nominal", "axis": {"domain": false, "ticks": false, "labelFontSize": 6.5, "labelColor": "#555555", "labelPadding": 2, "title": "D", "titleAngle": 0, "titleX": -36, "titleY": -30, "titleAlign": "left", "titleBaseline": "middle", "titleFontSize": 17, "titleFontWeight": "bold", "titleColor": "#000000"}}}},
 {"width": 319, "height": 193,
  "layer": [
   {"data": {"name": "recomb"}, "mark": {"type": "line", "color": "#5050ff", "strokeWidth": 1, "clip": true},
    "encoding": {"x": {"field": "pos", "type": "quantitative", "scale": {"domain": [49.168, 49.2685], "nice": false, "zero": false}, "axis": null},
     "y": {"field": "rate", "type": "quantitative", "scale": {"domain": [-5.5, 105.5], "nice": false, "zero": false}, "axis": {"orient": "right", "values": [0,20,40,60,80,100], "tickCount": 12, "title": "Recombination rate (cM/Mb)", "grid": false, "domain": false, "tickColor": "#6f6fff", "tickSize": 4, "labelColor": "#6f6fff", "labelFontSize": 7, "labelPadding": 2, "labelOverlap": false, "titleColor": "#6f6fff", "titleFontSize": 7, "titlePadding": 3}}}},
   {"layer": [
     {"data": {"name": "snps"}, "transform": [{"filter": "isValid(datum.r2) && datum.r2 < 1"}], "mark": {"type": "circle", "size": 45, "stroke": "#555555", "strokeWidth": 0.5, "opacity": 1, "clip": true},
      "encoding": {"x": {"field": "pos", "type": "quantitative", "scale": {"domain": [49.168, 49.2685], "nice": false, "zero": false}, "axis": null},
       "y": {"field": "c", "type": "quantitative", "scale": {"domain": [-0.55, 10.55], "nice": false, "zero": false}, "axis": {"values": [0,2,4,6,8,10], "tickCount": 12, "labelOverlap": false, "title": "−log₁₀(p−value)", "grid": false, "domain": false, "tickColor": "#999999", "tickSize": 4, "labelColor": "#555555", "labelFontSize": 7, "labelPadding": 2, "titleColor": "#6a5a4a", "titleFontSize": 7, "titlePadding": 3}},
       "color": {"field": "r2", "type": "quantitative", "scale": {"type": "threshold", "domain": [0.2, 0.4, 0.6, 0.8], "range": ["#000080", "#87cefa", "#00ee00", "#ffa500", "#ff0000"]}, "legend": {"type": "gradient", "title": "r²", "orient": "top-right"}}}},
     {"data": {"name": "snps"}, "transform": [{"filter": "datum.r2 == 1"}], "mark": {"type": "circle", "size": 45, "color": "#9932cc", "stroke": "#555555", "strokeWidth": 0.5, "opacity": 1},
      "encoding": {"x": {"field": "pos", "type": "quantitative"}, "y": {"field": "c", "type": "quantitative"}}},
     {"data": {"name": "snps"}, "transform": [{"filter": "datum.r2 == 1"}], "mark": {"type": "text", "text": "rs35866622", "dy": -8, "fontSize": 6.5, "color": "#333333"},
      "encoding": {"x": {"field": "pos", "type": "quantitative"}, "y": {"field": "c", "type": "quantitative"}}},
     {"data": {"values": [{}]}, "mark": {"type": "text", "text": "Ruminococcus Torques and RASIP1 PP.H4=0.93", "fontSize": 5.7, "fontWeight": "bold", "fontStyle": "italic", "color": "#111111", "baseline": "middle"},
      "encoding": {"x": {"datum": 49.217, "type": "quantitative"}, "y": {"datum": 9.37, "type": "quantitative"}}}
   ]}
  ],
  "resolve": {"scale": {"y": "independent"}}},
 {"width": 319, "height": 193,
  "layer": [
   {"data": {"name": "recomb"}, "mark": {"type": "line", "color": "#5050ff", "strokeWidth": 1, "clip": true},
    "encoding": {"x": {"field": "pos", "type": "quantitative", "scale": {"domain": [49.168, 49.2685], "nice": false, "zero": false}, "axis": null},
     "y": {"field": "rate", "type": "quantitative", "scale": {"domain": [-4.7, 105], "nice": false, "zero": false}, "axis": {"orient": "right", "values": [0,20,40,60,80,100], "tickCount": 12, "title": "Recombination rate (cM/Mb)", "grid": false, "domain": false, "tickColor": "#6f6fff", "tickSize": 4, "labelColor": "#6f6fff", "labelFontSize": 7, "labelPadding": 2, "labelOverlap": false, "titleColor": "#6f6fff", "titleFontSize": 7, "titlePadding": 3}}}},
   {"layer": [
     {"data": {"name": "snps"}, "transform": [{"filter": "isValid(datum.r2) && datum.r2 < 1"}], "mark": {"type": "circle", "size": 45, "stroke": "#555555", "strokeWidth": 0.5, "opacity": 1, "clip": true},
      "encoding": {"x": {"field": "pos", "type": "quantitative", "scale": {"domain": [49.168, 49.2685], "nice": false, "zero": false}, "axis": null},
       "y": {"field": "d", "type": "quantitative", "scale": {"domain": [-1.0, 22.2], "nice": false, "zero": false}, "axis": {"values": [0,5,10,15,20], "tickCount": 12, "labelOverlap": false, "title": "−log₁₀(p−value)", "grid": false, "domain": false, "tickColor": "#999999", "tickSize": 4, "labelColor": "#555555", "labelFontSize": 7, "labelPadding": 2, "titleColor": "#6a5a4a", "titleFontSize": 7, "titlePadding": 3}},
       "color": {"field": "r2", "type": "quantitative", "scale": {"type": "threshold", "domain": [0.2, 0.4, 0.6, 0.8], "range": ["#000080", "#87cefa", "#00ee00", "#ffa500", "#ff0000"]}, "legend": {"type": "gradient", "title": "r²", "orient": "top-left"}}}},
     {"data": {"name": "snps"}, "transform": [{"filter": "datum.r2 == 1"}], "mark": {"type": "circle", "size": 45, "color": "#9932cc", "stroke": "#555555", "strokeWidth": 0.5, "opacity": 1},
      "encoding": {"x": {"field": "pos", "type": "quantitative"}, "y": {"field": "d", "type": "quantitative"}}},
     {"data": {"name": "snps"}, "transform": [{"filter": "datum.r2 == 1"}], "mark": {"type": "text", "text": "rs35866622", "dy": -8, "fontSize": 6.5, "color": "#333333"},
      "encoding": {"x": {"field": "pos", "type": "quantitative"}, "y": {"field": "d", "type": "quantitative"}}},
     {"data": {"values": [{}]}, "mark": {"type": "text", "text": "Ruminococcus Torques and RASIP1 PP.H4=0.98", "fontSize": 5.7, "fontWeight": "bold", "fontStyle": "italic", "color": "#111111", "baseline": "middle"},
      "encoding": {"x": {"datum": 49.2212, "type": "quantitative"}, "y": {"datum": 20.2, "type": "quantitative"}}}
   ]}
  ],
  "resolve": {"scale": {"y": "independent"}}},
 {"width": 319, "height": 26,
  "layer": [
   {"data": {"name": "genes"}, "mark": {"type": "rule", "color": "#4040e0", "strokeWidth": 0.7, "clip": true},
    "encoding": {"x": {"field": "start", "type": "quantitative", "scale": {"domain": [49.168, 49.2685], "nice": false, "zero": false}, "axis": {"values": [49.18, 49.2, 49.22, 49.24, 49.26], "tickCount": 12, "format": ".4~r", "title": "Position on chr19 (Mb)", "grid": false, "domain": false, "tickColor": "#999999", "tickSize": 4, "labelColor": "#555555", "labelFontSize": 7, "labelPadding": 2, "titleColor": "#555555", "titleFontSize": 7, "titlePadding": 3}},
     "x2": {"field": "end"}, "y": {"field": "track", "type": "quantitative", "scale": {"domain": [0.673, 2.796], "nice": false, "zero": false}, "axis": null}}},
   {"data": {"name": "exons"}, "mark": {"type": "rule", "color": "#000080", "strokeWidth": 4, "strokeCap": "butt"},
    "encoding": {"x": {"field": "start", "type": "quantitative"}, "x2": {"field": "end"}, "y": {"field": "track", "type": "quantitative"}}},
   {"data": {"name": "genes"}, "mark": {"type": "text", "fontSize": 6.3, "fontStyle": "italic", "dy": -6, "color": "#222222"},
    "encoding": {"x": {"field": "lab", "type": "quantitative"}, "y": {"field": "track", "type": "quantitative"}, "text": {"field": "label"}}}
  ]},
 {"width": 319, "height": 26,
  "layer": [
   {"data": {"name": "genes"}, "mark": {"type": "rule", "color": "#4040e0", "strokeWidth": 0.7, "clip": true},
    "encoding": {"x": {"field": "start", "type": "quantitative", "scale": {"domain": [49.168, 49.2685], "nice": false, "zero": false}, "axis": {"values": [49.18, 49.2, 49.22, 49.24, 49.26], "tickCount": 12, "format": ".4~r", "title": "Position on chr19 (Mb)", "grid": false, "domain": false, "tickColor": "#999999", "tickSize": 4, "labelColor": "#555555", "labelFontSize": 7, "labelPadding": 2, "titleColor": "#555555", "titleFontSize": 7, "titlePadding": 3}},
     "x2": {"field": "end"}, "y": {"field": "track", "type": "quantitative", "scale": {"domain": [0.673, 2.796], "nice": false, "zero": false}, "axis": null}}},
   {"data": {"name": "exons"}, "mark": {"type": "rule", "color": "#000080", "strokeWidth": 4, "strokeCap": "butt"},
    "encoding": {"x": {"field": "start", "type": "quantitative"}, "x2": {"field": "end"}, "y": {"field": "track", "type": "quantitative"}}},
   {"data": {"name": "genes"}, "mark": {"type": "text", "fontSize": 6.3, "fontStyle": "italic", "dy": -6, "color": "#222222"},
    "encoding": {"x": {"field": "lab", "type": "quantitative"}, "y": {"field": "track", "type": "quantitative"}, "text": {"field": "label"}}}
  ]}
]},
{"bounds": "flush", "spacing": 108, "vconcat": [
 {"width": 87, "height": 20, "view": {"stroke": null}, "data": {"values": [{}]},
  "mark": {"type": "text", "text": ""},
  "encoding": {"y": {"datum": "E", "type": "nominal", "axis": {"labels": false, "ticks": false, "domain": false, "title": "E", "titleAngle": 0, "titleX": -154, "titleY": 64, "titleAlign": "left", "titleBaseline": "middle", "titleFontSize": 17, "titleFontWeight": "bold", "titleColor": "#000000"}}}},
 {"width": 87, "height": 384, "view": {"stroke": null}, "data": {"name": "matrix"},
  "encoding": {
   "x": {"field": "col", "type": "nominal", "sort": ["Ruminococcus torques", "Severe COVID−19"], "axis": {"orient": "top", "labelAngle": -90, "ticks": false, "domain": false, "title": null, "labelFont": "Liberation Serif", "labelFontWeight": "bold", "labelFontSize": 10, "labelColor": "#111111", "labelPadding": 4}},
   "y": {"field": "row", "type": "nominal", "sort": ["Severe COVID−19", "Ruminococcus torques", "RASIP1−CT", "RASIP1−CS", "NTN5−CT", "NTN5−CS", "FUT2−CT", "SEC1P−CS", "MAMSTR−CS"], "axis": {"ticks": false, "domain": false, "title": null, "labelFont": "Liberation Serif", "labelFontWeight": "bold", "labelFontSize": 11, "labelColor": "#111111", "labelPadding": 7}}},
  "layer": [
   {"mark": {"type": "rect", "fill": "#ffffff", "stroke": "#d4d4d4", "strokeWidth": 1.5}},
   {"mark": {"type": "text", "fontSize": 12.5, "fontWeight": "bold", "font": "Liberation Sans"},
    "encoding": {"text": {"field": "v", "type": "quantitative", "format": ".2f"},
     "color": {"field": "v", "type": "quantitative", "scale": {"type": "linear", "domain": [0.57, 0.615, 0.625, 0.70, 0.72, 0.78, 0.9, 1.0], "range": ["#fee08b", "#fee08b", "#fdae61", "#fdae61", "#f46d43", "#f46d43", "#a50026", "#a50026"]}, "legend": null}}}
  ]}
]}
]
}
